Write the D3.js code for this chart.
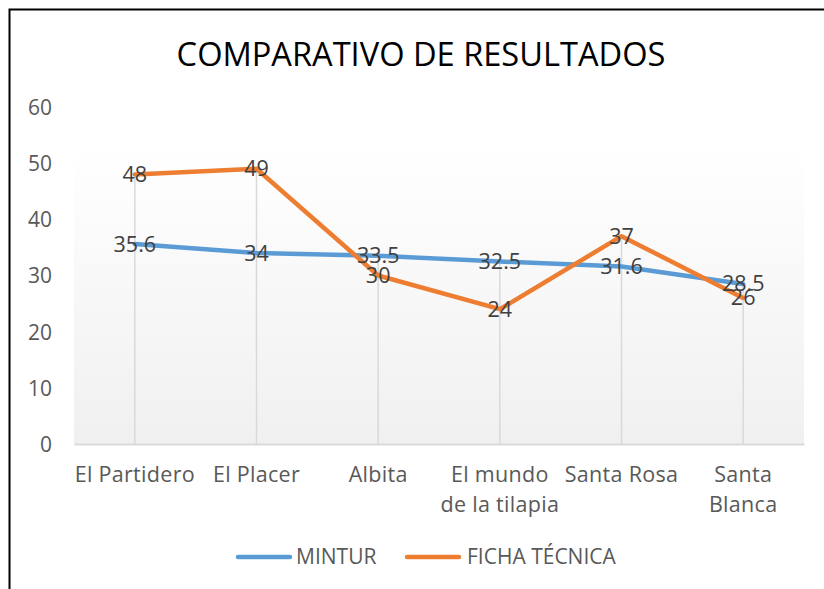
<!DOCTYPE html>
<html><head><meta charset="utf-8">
<script src="https://cdn.jsdelivr.net/npm/d3@7"></script>
<style>body{margin:0;background:#fff}svg{display:block}text{font-family:"Open Sans",sans-serif}</style>
</head><body><svg id="c" width="824" height="589"></svg>
<script>
const categories = [["El Partidero"],["El Placer"],["Albita"],["El mundo","de la tilapia"],["Santa Rosa"],["Santa","Blanca"]];
const mintur = [35.6, 34, 33.5, 32.5, 31.6, 28.5];
const ficha = [48, 49, 30, 24, 37, 26];
const yTicks = [0,10,20,30,40,50,60];
const seriesNames = ["MINTUR","FICHA TÉCNICA"];
const colors = ["#5b9bd5","#ed7d31"];

const svg = d3.select("#c");
const L=74, R=804, T=107, B=444;
const x = d3.scaleBand().domain(d3.range(categories.length)).range([L,R]);
const y = d3.scaleLinear().domain([0,60]).range([B,T]);
const cx = i => x(i)+x.bandwidth()/2;

// border
svg.append("rect").attr("x",9.5).attr("y",9.5).attr("width",900).attr("height",700)
  .attr("fill","none").attr("stroke","#000").attr("stroke-width",2);

// plot background gradient
const defs = svg.append("defs");
const g = defs.append("linearGradient").attr("id","bg").attr("x1",0).attr("y1",0).attr("x2",0).attr("y2",1);
g.append("stop").attr("offset","0%").attr("stop-color","#ffffff");
g.append("stop").attr("offset","12%").attr("stop-color","#ffffff");
g.append("stop").attr("offset","100%").attr("stop-color","#f0f0f0");
svg.append("rect").attr("x",L).attr("y",T).attr("width",R-L).attr("height",B-T).attr("fill","url(#bg)");

// title
svg.append("text").attr("x",421).attr("y",66).attr("text-anchor","middle")
  .attr("font-size",32.6).attr("fill","#000").text("COMPARATIVO DE RESULTADOS");

// y axis labels
const ya = d3.axisLeft(y).tickValues(yTicks).tickSize(0).tickPadding(0);
const yg = svg.append("g").attr("transform",`translate(52,0)`).call(ya);
yg.select(".domain").remove();
yg.selectAll("text").attr("font-size",21).attr("fill","#595959").attr("font-family","Open Sans").attr("dy","0.35em");

// drop lines
categories.forEach((c,i)=>{
  svg.append("line").attr("x1",cx(i)).attr("x2",cx(i)).attr("y1",B).attr("y2",y(Math.max(mintur[i],ficha[i])))
    .attr("stroke","#d9d9d9").attr("stroke-width",1.5);
});

// x axis
const xa = d3.axisBottom(x).tickSize(0).tickFormat("");
const xg = svg.append("g").attr("transform",`translate(0,${B})`).call(xa);
xg.select(".domain").attr("stroke","#d9d9d9").attr("stroke-width",2);
categories.forEach((c,i)=>{
  const t = svg.append("text").attr("text-anchor","middle").attr("font-size",21.5).attr("fill","#595959")
    .attr("letter-spacing",0.3);
  c.forEach((s,k)=>t.append("tspan").attr("x",cx(i)).attr("y",482+k*30).text(s));
});

// lines
const line = d3.line().x((d,i)=>cx(i)).y(d=>y(d));
[mintur,ficha].forEach((s,j)=>{
  svg.append("path").datum(s).attr("d",line).attr("fill","none").attr("stroke",colors[j])
    .attr("stroke-width",4.5).attr("stroke-linejoin","round").attr("stroke-linecap","round");
});
// labels
[mintur,ficha].forEach((s,j)=>{
  s.forEach((v,i)=>{
    svg.append("text").attr("x",cx(i)).attr("y",y(v)).attr("dy","0.35em").attr("text-anchor","middle")
      .attr("font-size",21.5).attr("fill","#404040").text(v);
  });
});

// legend
const leg = [[238,296],[407,467]];
seriesNames.forEach((n,j)=>{
  svg.append("line").attr("x1",leg[j][0]).attr("x2",leg[j][0]+52).attr("y1",557).attr("y2",557)
    .attr("stroke",colors[j]).attr("stroke-width",4.5).attr("stroke-linecap","round");
  svg.append("text").attr("x",leg[j][1]).attr("y",557).attr("dy","0.35em").attr("font-size",21).attr("fill","#595959").text(n);
});
</script></body></html>
